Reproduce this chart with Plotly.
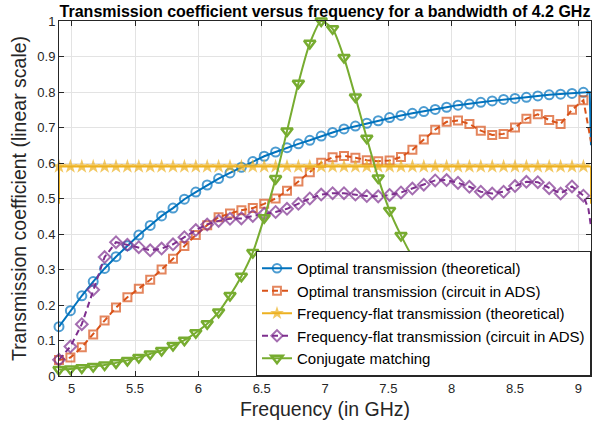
import plotly.graph_objects as go

# ---------------- data ----------------
freq = [4.90, 4.99, 5.08, 5.17, 5.26, 5.35, 5.44, 5.53, 5.62, 5.71,
        5.80, 5.89, 5.98, 6.07, 6.16, 6.25, 6.34, 6.43, 6.52, 6.61,
        6.70, 6.79, 6.88, 6.97, 7.06, 7.15, 7.24, 7.33, 7.42, 7.51,
        7.60, 7.69, 7.78, 7.87, 7.96, 8.05, 8.14, 8.23, 8.32, 8.41,
        8.50, 8.59, 8.68, 8.77, 8.86, 8.95, 9.04]

opt_theory = [0.139, 0.184, 0.226, 0.266, 0.303, 0.336, 0.367, 0.397, 0.424, 0.451,
              0.473, 0.498, 0.518, 0.538, 0.556, 0.572, 0.588, 0.604, 0.619, 0.631,
              0.643, 0.654, 0.664, 0.676, 0.686, 0.696, 0.704, 0.712, 0.719, 0.728,
              0.734, 0.740, 0.745, 0.751, 0.757, 0.763, 0.766, 0.771, 0.775, 0.779,
              0.782, 0.785, 0.789, 0.792, 0.794, 0.796, 0.799]
opt_theory_edge_x = [9.09, 9.10]
opt_theory_edge_y = [0.800, 0.650]

opt_ads = [0.045, 0.052, 0.081, 0.117, 0.156, 0.193, 0.222, 0.246, 0.271, 0.300,
           0.330, 0.366, 0.397, 0.425, 0.447, 0.458, 0.467, 0.473, 0.485, 0.500,
           0.522, 0.548, 0.574, 0.601, 0.616, 0.620, 0.615, 0.608, 0.605, 0.607,
           0.617, 0.637, 0.666, 0.694, 0.716, 0.720, 0.710, 0.691, 0.679, 0.682,
           0.700, 0.725, 0.737, 0.721, 0.710, 0.750, 0.777]
opt_ads_edge_x = [9.10]
opt_ads_edge_y = [0.660]

flat_theory = [0.59] * 47
flat_theory_left_y = 0.485
flat_theory_edge_x = [9.10, 9.10]
flat_theory_edge_y = [0.590, 0.485]

flat_ads = [0.046, 0.083, 0.146, 0.243, 0.335, 0.377, 0.370, 0.363, 0.354, 0.359,
            0.371, 0.391, 0.411, 0.427, 0.437, 0.443, 0.444, 0.451, 0.457, 0.462,
            0.471, 0.485, 0.500, 0.511, 0.515, 0.515, 0.511, 0.507, 0.506, 0.510,
            0.517, 0.528, 0.539, 0.551, 0.552, 0.544, 0.533, 0.519, 0.514, 0.519,
            0.535, 0.547, 0.546, 0.529, 0.514, 0.534, 0.508]
flat_ads_edge_x = [9.08, 9.10]
flat_ads_edge_y = [0.470, 0.420]

conjugate = [0.018, 0.020, 0.023, 0.027, 0.031, 0.037, 0.044, 0.052, 0.062, 0.072,
             0.086, 0.101, 0.122, 0.147, 0.180, 0.227, 0.281, 0.348, 0.446, 0.556,
             0.690, 0.825, 0.937, 1.000, 0.978, 0.897, 0.786, 0.670, 0.558, 0.466,
             0.396, 0.336, 0.294, 0.260, 0.230, 0.205, 0.185, 0.165, 0.150, 0.135,
             0.125, 0.115, 0.105, 0.097, 0.090, 0.084, 0.078]

names = ["Optimal transmission (theoretical)",
         "Optimal transmission (circuit in ADS)",
         "Frequency-flat transmission (theoretical)",
         "Frequency-flat transmission (circuit in ADS)",
         "Conjugate matching"]

x_ticks = [5, 5.5, 6, 6.5, 7, 7.5, 8, 8.5, 9]
y_ticks = [0, 0.1, 0.2, 0.3, 0.4, 0.5, 0.6, 0.7, 0.8, 0.9, 1]

C_BLUE, C_ORANGE, C_YELLOW, C_PURPLE, C_GREEN = "#0072BD", "#D95319", "#EDB120", "#7E2F8E", "#77AC30"


def with_edges(xs, ys, pre_x=(), pre_y=(), post_x=(), post_y=(), ms=8):
    x = list(pre_x) + list(xs) + list(post_x)
    y = list(pre_y) + list(ys) + list(post_y)
    sizes = [0] * len(pre_x) + [ms] * len(xs) + [0] * len(post_x)
    return x, y, sizes


fig = go.Figure()

x, y, s = with_edges(freq, opt_theory, post_x=opt_theory_edge_x, post_y=opt_theory_edge_y, ms=9)
fig.add_trace(go.Scatter(x=x, y=y, name=names[0], mode="lines+markers", cliponaxis=False,
                         line=dict(color=C_BLUE, width=2),
                         marker=dict(symbol="circle-open", size=s, color=C_BLUE, line=dict(width=2))))

x, y, s = with_edges(freq, opt_ads, post_x=opt_ads_edge_x, post_y=opt_ads_edge_y, ms=8)
fig.add_trace(go.Scatter(x=x, y=y, name=names[1], mode="lines+markers", cliponaxis=False,
                         line=dict(color=C_ORANGE, width=2, dash="6px,4px"),
                         marker=dict(symbol="square-open", size=s, color=C_ORANGE, line=dict(width=2))))

x, y, s = with_edges(freq, flat_theory, pre_x=[freq[0]], pre_y=[flat_theory_left_y],
                     post_x=flat_theory_edge_x, post_y=flat_theory_edge_y, ms=11)
fig.add_trace(go.Scatter(x=x, y=y, name=names[2], mode="lines+markers", cliponaxis=False,
                         line=dict(color=C_YELLOW, width=2),
                         marker=dict(symbol="star", size=s, color=C_YELLOW, line=dict(width=0))))

x, y, s = with_edges(freq, flat_ads, post_x=flat_ads_edge_x, post_y=flat_ads_edge_y, ms=9)
fig.add_trace(go.Scatter(x=x, y=y, name=names[3], mode="lines+markers", cliponaxis=False,
                         line=dict(color=C_PURPLE, width=2, dash="6px,4px"),
                         marker=dict(symbol="diamond-open", size=s, color=C_PURPLE, line=dict(width=2))))

fig.add_trace(go.Scatter(x=freq, y=conjugate, name=names[4], mode="lines+markers", cliponaxis=False,
                         line=dict(color=C_GREEN, width=2, shape="spline", smoothing=0.6),
                         marker=dict(symbol="triangle-down-open", size=10, color=C_GREEN, line=dict(width=2.5))))

axis_common = dict(showline=True, linecolor="#262626", linewidth=1, mirror="ticks",
                   ticks="inside", ticklen=5, tickcolor="#262626", tickwidth=1,
                   showgrid=True, gridcolor="#e3e3e3", gridwidth=1, zeroline=False,
                   tickfont=dict(family="Liberation Sans, Arial, sans-serif", size=13, color="#262626"))

fig.update_layout(
    width=608, height=431,
    margin=dict(l=59, r=17, t=21, b=55),
    paper_bgcolor="white", plot_bgcolor="white",
    font=dict(family="Liberation Sans, Arial, sans-serif", color="#262626"),
    title=dict(text="<b>Transmission coefficient versus frequency for a bandwidth of 4.2 GHz</b>",
               font=dict(size=16, color="black"), xref="paper", x=0.5, xanchor="center",
               yref="container", y=1 - 11 / 431, yanchor="middle"),
    xaxis=dict(range=[4.9, 9.1], tickvals=x_ticks, ticktext=[str(v) for v in x_ticks],
               title=dict(text="Frequency (in GHz)", font=dict(size=19.5, color="#262626"), standoff=7),
               **axis_common),
    yaxis=dict(range=[0, 1], tickvals=y_ticks, ticktext=[("%g" % v) for v in y_ticks],
               title=dict(text="Transmission coefficient (linear scale)", font=dict(size=19.5, color="#262626"), standoff=5),
               **axis_common),
    legend=dict(x=1, y=0, xanchor="right", yanchor="bottom", bgcolor="white",
                bordercolor="#262626", borderwidth=1,
                font=dict(size=15, color="black"), tracegroupgap=0),
    showlegend=True,
)

fig.write_html("out.html", config={"displayModeBar": False},
               post_script="document.body.style.margin='0';")
